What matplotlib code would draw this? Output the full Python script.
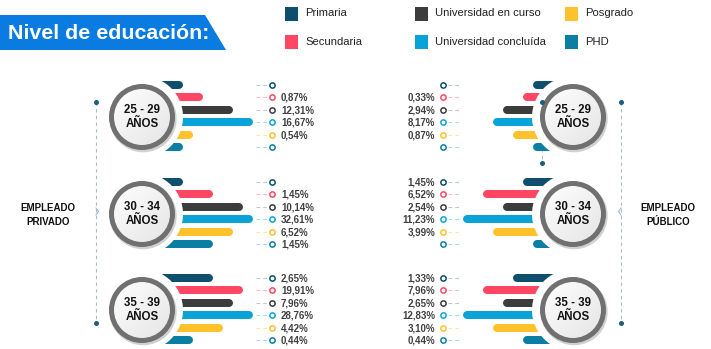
import numpy as np
import matplotlib
matplotlib.use("Agg")
import matplotlib.pyplot as plt
from matplotlib.patches import Circle, Polygon, Rectangle
import warnings
warnings.filterwarnings("ignore")

# ---------------- data ----------------
levels = ["Primaria", "Secundaria", "Universidad en curso",
          "Universidad concluída", "Posgrado", "PHD"]
colors = ["#0d4f6c", "#ff4765", "#3c3c3c", "#09a3da", "#ffc12c", "#0b7ea3"]
light = ["#b3ccd8", "#ffbcc7", "#c6c6c6", "#a8dcf0", "#ffe6a8", "#add5e2"]

age_groups = ["25 - 29", "30 - 34", "35 - 39"]

# percentages (nan = no label shown)
privado_2529 = [np.nan, 0.87, 12.31, 16.67, 0.54, np.nan]
privado_3034 = [np.nan, 1.45, 10.14, 32.61, 6.52, 1.45]
privado_3539 = [2.65, 19.91, 7.96, 28.76, 4.42, 0.44]
publico_2529 = [np.nan, 0.33, 2.94, 8.17, 0.87, np.nan]
publico_3034 = [1.45, 6.52, 2.54, 11.23, 3.99, np.nan]
publico_3539 = [1.33, 7.96, 2.65, 12.83, 3.10, 0.44]

# drawn bar lengths (arbitrary units, as drawn in the infographic)
privado_bars_2529 = [0, 2, 5, 7, 1, 0]
privado_bars_3034 = [0, 3, 6, 7, 5, 3]
privado_bars_3539 = [3, 6, 5, 7, 4, 1]
publico_bars_2529 = [0, 1, 3, 4, 2, 0]
publico_bars_3034 = [1, 5, 3, 7, 4, 0]
publico_bars_3539 = [2, 5, 3, 7, 4, 1]

privado = [privado_2529, privado_3034, privado_3539]
publico = [publico_2529, publico_3034, publico_3539]
privado_bars = [privado_bars_2529, privado_bars_3034, privado_bars_3539]
publico_bars = [publico_bars_2529, publico_bars_3034, publico_bars_3539]

title = "Nivel de educación:"

# ---------------- figure ----------------
W, H = 711, 349
fig = plt.figure(figsize=(W / 100, H / 100), dpi=100)
ax = fig.add_axes([0, 0, 1, 1])
ax.set_xlim(0, W)
ax.set_ylim(H, 0)
ax.axis("off")
PX = 0.72  # points per pixel

BOLD = ["Liberation Sans", "DejaVu Sans"]
REG = ["Liberation Sans", "DejaVu Sans"]
TXT = "#404040"

# title banner
ax.add_patch(Polygon([(0, 15), (205, 15), (226, 50), (0, 50)],
                     closed=True, facecolor="#0a7be0", edgecolor="none"))
ax.text(8, 33.5, title, color="white", fontsize=15.4, fontweight="bold",
        family=BOLD, va="center", ha="left")

# legend
leg_cols = [285, 415, 565]
leg_rows = [13.5, 42]
for i, (lab, c) in enumerate(zip(levels, colors)):
    col, row = i // 2, i % 2
    x0, yc = leg_cols[col], leg_rows[row]
    ax.add_patch(Rectangle((x0, yc - 7), 13, 14, facecolor=c, edgecolor="none"))
    ax.text(x0 + 20, yc, lab, fontsize=8.1, family=REG, color="#222222",
            va="center", ha="left")

centers_y = [116, 213, 309]
row_step = 12.4
cx_left, cx_right = 142, 573
bar_h = 8
unit = 10
base_gap = 41


def draw_circle(cx, cy, label):
    ax.add_patch(Circle((cx, cy), 41, facecolor="white", edgecolor="none", zorder=3))
    ax.add_patch(Circle((cx + 1.2, cy + 1.8), 33.5, facecolor="#000000",
                        alpha=0.18, edgecolor="none", zorder=4))
    inner = Circle((cx, cy), 30, facecolor="#f4f4f4", edgecolor="none", zorder=5)
    ax.add_patch(inner)
    g = np.linspace(0, 1, 64)
    grad = np.add.outer(g, g) / 2
    im = ax.imshow(grad, cmap=matplotlib.colors.LinearSegmentedColormap.from_list(
        "g", ["#ffffff", "#e4e4e4"]), extent=(cx - 31, cx + 31, cy + 31, cy - 31),
        zorder=5.5, interpolation="bilinear", aspect="auto")
    im.set_clip_path(inner)
    ax.add_patch(Circle((cx, cy), 30.5, facecolor="none", edgecolor="#707070",
                        linewidth=5 * PX, zorder=6))
    ax.text(cx, cy, label + "\nAÑOS", fontsize=8.3, fontweight="bold", family=BOLD,
            color="#111111", ha="center", va="center", zorder=7, linespacing=1.25)


def fmt(v):
    return ("%.2f" % v).replace(".", ",") + "%"


for gi, cy in enumerate(centers_y):
    ys = cy + (np.arange(6) - 2.5) * row_step
    # ---- left (privado)
    ends = cx_left + base_gap + unit * np.array(privado_bars[gi])
    for k in range(6):
        ax.hlines(ys[k], cx_left, ends[k] - bar_h / 2, colors=colors[k],
                  linewidth=bar_h * PX, capstyle="round", zorder=2)
        ax.plot([256, 268], [ys[k], ys[k]], color=light[k], lw=0.8,
                dashes=(3.5, 2.5), zorder=2)
        ax.plot(272, ys[k], marker="o", ms=3.8, mfc="white", mec=colors[k],
                mew=1.1, zorder=3)
        v = privado[gi][k]
        if not np.isnan(v):
            ax.text(281, ys[k] + 0.5, fmt(v), fontsize=7, fontweight="bold",
                    family=BOLD, color=TXT, va="center", ha="left")
    draw_circle(cx_left, cy + 1, age_groups[gi])

    # ---- right (publico)
    ends = cx_right - base_gap + 1 - unit * np.array(publico_bars[gi])
    for k in range(6):
        ax.hlines(ys[k], ends[k] + bar_h / 2, cx_right, colors=colors[k],
                  linewidth=bar_h * PX, capstyle="round", zorder=2)
        ax.plot([448, 460], [ys[k], ys[k]], color=light[k], lw=0.8,
                dashes=(3.5, 2.5), zorder=2)
        ax.plot(443, ys[k], marker="o", ms=3.8, mfc="white", mec=colors[k],
                mew=1.1, zorder=3)
        v = publico[gi][k]
        if not np.isnan(v):
            ax.text(435, ys[k] + 0.5, fmt(v), fontsize=7, fontweight="bold",
                    family=BOLD, color=TXT, va="center", ha="right")
    draw_circle(cx_right, cy + 1, age_groups[gi])

# side brackets
line_c = "#a6bccb"
dot_c = "#1d5f80"
for x, notch in [(96, 2.5), (621, -2.5)]:
    ax.plot([x, x], [102, 323], color=line_c, lw=0.8, dashes=(3, 3), zorder=1)
    ax.plot([x, x], [102, 323], ls="none", marker="o", ms=2.6, color=dot_c, zorder=8)
    ax.plot([x, x + notch, x], [208, 211.5, 215], color=line_c, lw=0.8, zorder=1)
ax.plot([542, 542], [102, 163], color=line_c, lw=0.8, dashes=(3, 3), zorder=1)
ax.plot([542, 542], [102, 163], ls="none", marker="o", ms=2.6, color=dot_c, zorder=8)

ax.text(48, 215, "EMPLEADO\nPRIVADO", fontsize=7, fontweight="bold", family=BOLD,
        color="#111111", ha="center", va="center", linespacing=1.45)
ax.text(668, 215, "EMPLEADO\nPÚBLICO", fontsize=7, fontweight="bold", family=BOLD,
        color="#111111", ha="center", va="center", linespacing=1.45)

fig.savefig("out.png", dpi=100)
